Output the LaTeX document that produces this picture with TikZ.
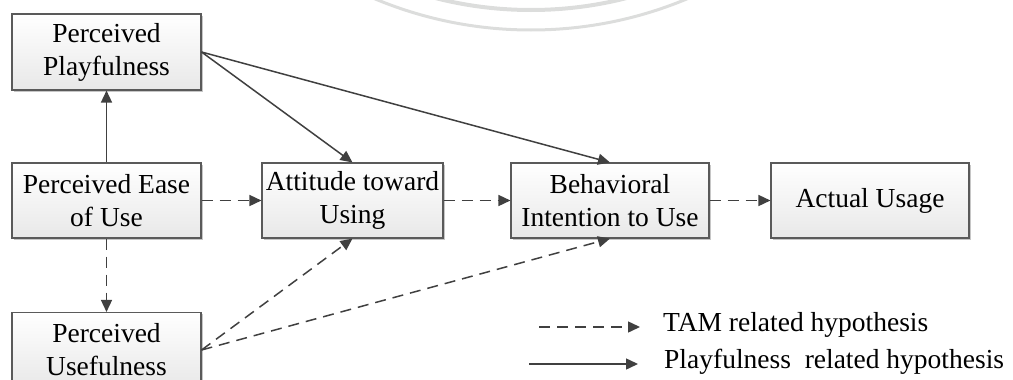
\documentclass[tikz,border=0pt]{standalone}
\usepackage{fontspec}
\setmainfont{Liberation Serif}
\usetikzlibrary{arrows.meta,shadows}
\definecolor{boxline}{HTML}{5A5A5A}
\definecolor{linkcol}{HTML}{404040}
\definecolor{markcol}{HTML}{DCDDDC}
\tikzset{
  construct/.style={draw=boxline, line width=1.1pt, top color=white, bottom color=black!9,
    minimum height=75pt, inner sep=0pt, align=center,
    font=\fontsize{27.5}{33}\selectfont,
    drop shadow={shadow xshift=1.6pt, shadow yshift=-1.6pt, fill=black!28, opacity=0.8}},
  link/.style={draw=linkcol, line width=1.5pt, -{Triangle[length=12pt,width=11pt]}},
  tamlink/.style={link, dash pattern=on 11pt off 7pt},
  legendtext/.style={anchor=west, inner sep=0pt, font=\fontsize{27.5}{33}\selectfont}
}
\begin{document}
\begin{tikzpicture}[x=1pt, y=-1pt]
\useasboundingbox (0,0) rectangle (1013,380);
\clip (0,0) rectangle (1013,380);

% faint seal arcs along the top edge
\draw[markcol, line width=3pt] (531,-375) circle[radius=405pt];
\draw[markcol, line width=4pt] (531,-375) circle[radius=385pt];

% constructs
\node[construct, minimum width=189pt, minimum height=76pt] (play) at (106.5,52) {Perceived\\Playfulness};
\node[construct, minimum width=189pt] (ease) at (106.5,200.5) {Perceived Ease\\of Use};
\node[construct, minimum width=189pt] (useful) at (106.5,350) {Perceived\\Usefulness};
\node[construct, minimum width=181pt] (att) at (352.5,200.5) {Attitude toward\\Using};
\node[construct, minimum width=198pt] (beh) at (610,200.5) {Behavioral\\Intention to Use};
\node[construct, minimum width=198pt] (act) at (870,200.5) {Actual Usage};

% playfulness paths
\draw[link] (ease) -- (play);
\draw[link] (play.east) -- (att.north);
\draw[link] (play.east) -- (beh.north);

% TAM paths
\draw[tamlink] (ease) -- (att);
\draw[tamlink] (att) -- (beh);
\draw[tamlink] (beh) -- (act);
\draw[tamlink] (ease) -- (useful);
\draw[tamlink] (useful.east) -- (att.south);
\draw[tamlink] (useful.east) -- (beh.south);

% legend
\coordinate (tamA) at (539,327);
\coordinate (tamB) at (640,327);
\coordinate (plA) at (529,364);
\coordinate (plB) at (638,364);
\draw[tamlink] (tamA) -- (tamB);
\draw[link] (plA) -- (plB);
\node[legendtext] (tamlabel) at (663,325) {TAM related hypothesis};
\node[legendtext] (pllabel) at (664,362) {Playfulness\ \ related hypothesis};
\end{tikzpicture}
\end{document}
